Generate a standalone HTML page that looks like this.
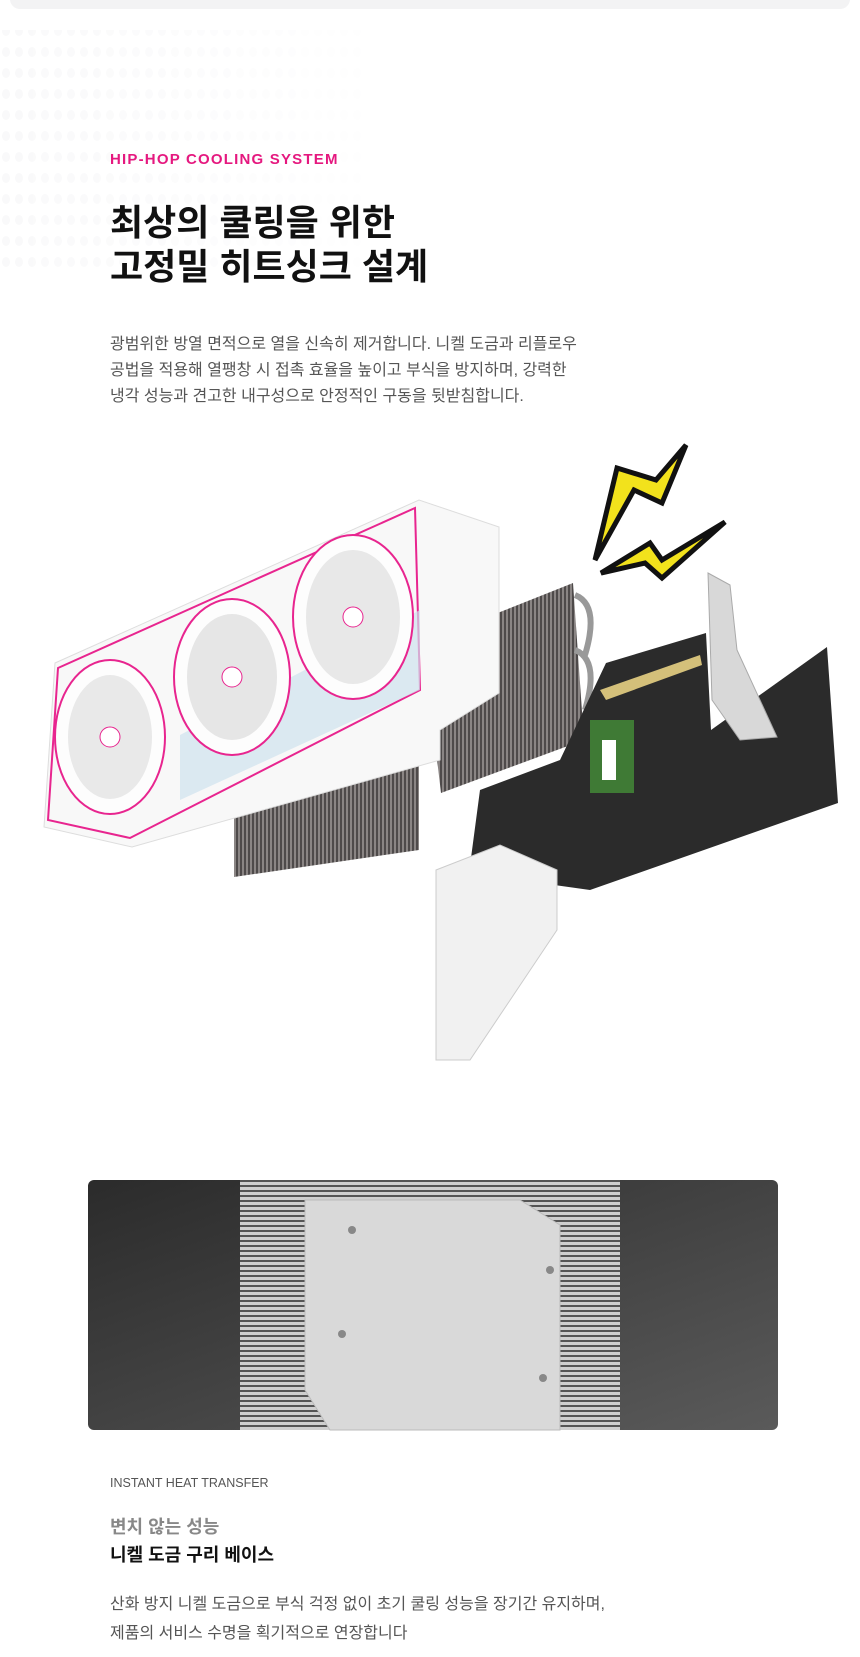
<!DOCTYPE html>
<html><head><meta charset="utf-8"><style>
html,body{margin:0;padding:0;background:#fff;width:860px;height:1657px;overflow:hidden;position:relative;font-family:"Liberation Sans","Noto Sans CJK KR",sans-serif}
.t{position:absolute;left:110px;white-space:nowrap}
</style></head><body>
<div style="position:absolute;left:10px;top:-12px;width:840px;height:21px;border-radius:10px;background:#f3f3f4"></div>
<svg width="860" height="1657" style="position:absolute;left:0;top:0">
<defs>
<pattern id="dots" width="13" height="21" patternUnits="userSpaceOnUse"><ellipse cx="6" cy="10" rx="4" ry="5" fill="#f9f9fa"/></pattern>
<linearGradient id="fade" x1="0" x2="1"><stop offset="0" stop-color="#fff" stop-opacity="1"/><stop offset="1" stop-color="#fff" stop-opacity="0"/></linearGradient>
<mask id="m"><rect x="0" y="30" width="400" height="240" fill="url(#fade)"/></mask>
<pattern id="fin" width="4" height="4" patternUnits="userSpaceOnUse"><rect width="4" height="4" fill="#8a8584"/><rect width="2" height="4" fill="#4e4a4a"/></pattern>
<linearGradient id="dk" x1="0" x2="1" y1="0" y2="1"><stop offset="0" stop-color="#2b2b2b"/><stop offset="1" stop-color="#5a5a5a"/></linearGradient>
<pattern id="fin2" width="5" height="5" patternUnits="userSpaceOnUse"><rect width="5" height="5" fill="#cfcfcf"/><rect width="5" height="2" fill="#555"/></pattern>
</defs>
<rect x="0" y="30" width="400" height="240" fill="url(#dots)" mask="url(#m)"/>
<polygon points="234,797 419,723 419,850 234,877" fill="url(#fin)"/>
<polygon points="480,620 573,583 584,740 441,793 430,700" fill="url(#fin)"/>
<path d="M575,595 q25,10 10,60 M575,650 q25,10 10,60" stroke="#999" stroke-width="6" fill="none"/>
<polygon points="606,663 706,633 711,730 827,647 838,803 590,890 469,873 480,790 560,760" fill="#2b2b2b"/>
<polygon points="600,690 700,655 702,665 606,700" fill="#d4c07a"/>
<rect x="590" y="720" width="44" height="73" fill="#3f7a35"/>
<rect x="602" y="740" width="14" height="40" fill="#fff"/>
<polygon points="436,870 500,845 557,870 557,930 470,1060 436,1060" fill="#f1f1f1" stroke="#ccc"/>
<polygon points="708,573 730,585 737,650 777,737 740,740 712,700" fill="#d8d8d8" stroke="#aaa"/>
<polygon points="44,827 55,663 419,500 499,527 499,693 440,730 440,760 132,847" fill="#f8f8f8" stroke="#ddd"/>
<polygon points="48,820 58,668 415,508 420,690 130,838" fill="none" stroke="#e8258f" stroke-width="2"/>
<polygon points="180,735 420,610 420,690 180,800" fill="#cfe3ee" opacity=".7"/>
<ellipse cx="110" cy="737" rx="55" ry="77" fill="#fdfdfd" stroke="#e8258f" stroke-width="2"/>
<ellipse cx="110" cy="737" rx="42" ry="62" fill="#e9e9e9"/>
<ellipse cx="232" cy="677" rx="58" ry="78" fill="#fdfdfd" stroke="#e8258f" stroke-width="2"/>
<ellipse cx="232" cy="677" rx="45" ry="63" fill="#e6e6e6"/>
<ellipse cx="353" cy="617" rx="60" ry="82" fill="#fdfdfd" stroke="#e8258f" stroke-width="2"/>
<ellipse cx="353" cy="617" rx="47" ry="67" fill="#e8e8e8"/>
<circle cx="110" cy="737" r="10" fill="#fff" stroke="#e8258f"/><circle cx="232" cy="677" r="10" fill="#fff" stroke="#e8258f"/><circle cx="353" cy="617" r="10" fill="#fff" stroke="#e8258f"/>
<polygon points="617,468 656,480 686,445 662,503 634,490 595,560" fill="#f2e21c" stroke="#111" stroke-width="5"/>
<polygon points="601,573 650,543 662,560 725,522 662,578 645,563" fill="#f2e21c" stroke="#111" stroke-width="5"/>
<rect x="88" y="1180" width="690" height="250" rx="6" fill="url(#dk)"/>
<polygon points="240,1180 620,1180 620,1430 240,1430" fill="url(#fin2)"/>
<polygon points="305,1200 520,1200 560,1225 560,1430 330,1430 305,1390" fill="#d9d9d9" stroke="#bbb"/>
<circle cx="352" cy="1230" r="4" fill="#888"/><circle cx="550" cy="1270" r="4" fill="#888"/><circle cx="342" cy="1334" r="4" fill="#888"/><circle cx="543" cy="1378" r="4" fill="#888"/>
</svg>
<div class="t" style="top:151px;font-size:15px;font-weight:bold;color:#e5187f;letter-spacing:1.2px">HIP-HOP COOLING SYSTEM</div>
<div class="t" style="top:201px;font-size:36px;font-weight:bold;color:#111;line-height:44px">최상의 쿨링을 위한<br>고정밀 히트싱크 설계</div>
<div class="t" style="top:332px;font-size:16px;color:#555;line-height:26px">광범위한 방열 면적으로 열을 신속히 제거합니다. 니켈 도금과 리플로우<br>공법을 적용해 열팽창 시 접촉 효율을 높이고 부식을 방지하며, 강력한<br>냉각 성능과 견고한 내구성으로 안정적인 구동을 뒷받침합니다.</div>
<div class="t" style="top:1476px;font-size:12.5px;color:#555">INSTANT HEAT TRANSFER</div>
<div class="t" style="top:1513px;font-size:18px;color:#888;font-weight:bold">변치 않는 성능</div>
<div class="t" style="top:1541px;font-size:18px;color:#111;font-weight:bold">니켈 도금 구리 베이스</div>
<div class="t" style="top:1590px;font-size:16px;color:#555;line-height:29px">산화 방지 니켈 도금으로 부식 걱정 없이 초기 쿨링 성능을 장기간 유지하며,<br>제품의 서비스 수명을 획기적으로 연장합니다</div>
</body></html>
